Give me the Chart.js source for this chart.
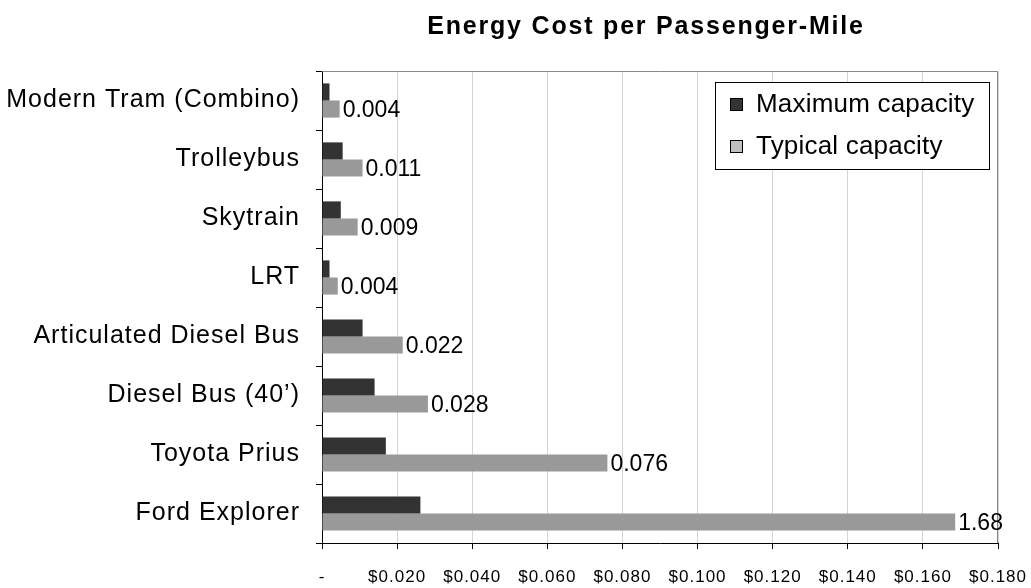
<!DOCTYPE html>
<html>
<head>
<meta charset="utf-8">
<script src="https://cdn.jsdelivr.net/npm/chart.js@4.4.1/dist/chart.umd.min.js"></script>
<style>
  html, body { margin: 0; padding: 0; background: #fff; }
  #wrap { width: 1031px; height: 588px; }
</style>
</head>
<body>
<div id="wrap"><canvas id="c" width="1031" height="588"></canvas></div>
<script>
const categories = ["Modern Tram (Combino)", "Trolleybus", "Skytrain", "LRT", "Articulated Diesel Bus", "Diesel Bus (40\u2019)", "Toyota Prius", "Ford Explorer"];
const maximumCapacity = [0.0020, 0.0055, 0.0050, 0.0020, 0.0108, 0.0140, 0.0170, 0.0262];
const typicalCapacity = [0.0047, 0.0108, 0.0095, 0.0042, 0.0215, 0.0282, 0.0760, 0.1686];
const typicalLabels = ["0.004", "0.011", "0.009", "0.004", "0.022", "0.028", "0.076", "1.68"];
const xTickLabels = ["-", "$0.020", "$0.040", "$0.060", "$0.080", "$0.100", "$0.120", "$0.140", "$0.160", "$0.180"];
const seriesNames = ["Maximum capacity", "Typical capacity"];
const seriesColors = ["#333333", "#999999"];
const legendSwatchColors = ["#333333", "#c0c0c0"];
const chartTitle = "Energy Cost per Passenger-Mile";

const FONT = "'Liberation Sans', Arial, sans-serif";

const frameAndLabels = {
  id: 'frameAndLabels',
  beforeDraw(chart) {
    const ctx = chart.ctx;
    if ('letterSpacing' in ctx) ctx.letterSpacing = '1px';
  },
  afterDatasetsDraw(chart) {
    const ctx = chart.ctx;
    const a = chart.chartArea;
    ctx.save();
    ctx.strokeStyle = '#888888';
    ctx.lineWidth = 1;
    ctx.beginPath();
    ctx.moveTo(a.left, a.top + 0.5);
    ctx.lineTo(a.right - 0.5, a.top + 0.5);
    ctx.lineTo(a.right - 0.5, a.bottom);
    ctx.stroke();
    const meta = chart.getDatasetMeta(1);
    if ('letterSpacing' in ctx) ctx.letterSpacing = '0px';
    ctx.fillStyle = '#000';
    ctx.font = "23px " + FONT;
    ctx.textAlign = 'left';
    ctx.textBaseline = 'middle';
    meta.data.forEach((bar, i) => {
      ctx.fillText(typicalLabels[i], bar.x + 3, bar.y + 2);
    });
    ctx.restore();
  },
  afterDraw(chart) {
    const ctx = chart.ctx;
    ctx.save();
    // title
    if ('letterSpacing' in ctx) ctx.letterSpacing = '1.8px';
    ctx.fillStyle = '#000';
    ctx.font = "bold 25px " + FONT;
    ctx.textAlign = 'center';
    ctx.textBaseline = 'middle';
    ctx.fillText(chartTitle, 646, 27);
    // legend box inside plot
    if ('letterSpacing' in ctx) ctx.letterSpacing = '0.2px';
    const bx = 715, by = 82, bw = 274, bh = 87;
    ctx.fillStyle = '#fff';
    ctx.fillRect(bx, by, bw, bh);
    ctx.strokeStyle = '#000';
    ctx.lineWidth = 1;
    ctx.strokeRect(bx + 0.5, by + 0.5, bw, bh);
    ctx.font = "26px " + FONT;
    ctx.textAlign = 'left';
    ctx.textBaseline = 'middle';
    chart.data.datasets.forEach((ds, i) => {
      const cy = by + 22 + i * 42;
      ctx.fillStyle = legendSwatchColors[i];
      ctx.fillRect(730, cy - 6, 13, 13);
      ctx.strokeStyle = '#000';
      ctx.strokeRect(730.5, cy - 5.5, 12, 12);
      ctx.fillStyle = '#000';
      ctx.fillText(ds.label, 756, cy + 1);
    });
    ctx.restore();
    if ('letterSpacing' in ctx) ctx.letterSpacing = '0px';
  }
};

new Chart(document.getElementById('c'), {
  type: 'bar',
  data: {
    labels: categories,
    datasets: [
      { label: seriesNames[0], data: maximumCapacity, backgroundColor: seriesColors[0], borderWidth: 0 },
      { label: seriesNames[1], data: typicalCapacity, backgroundColor: seriesColors[1], borderWidth: 0 }
    ]
  },
  options: {
    indexAxis: 'y',
    responsive: false,
    animation: false,
    devicePixelRatio: 1,
    categoryPercentage: 0.58,
    barPercentage: 1.0,
    layout: { padding: { left: 0, right: 33, top: 71, bottom: 0 } },
    plugins: {
      legend: { display: false },
      tooltip: { enabled: false },
      title: { display: false }
    },
    scales: {
      x: {
        type: 'linear',
        min: 0,
        max: 0.18,
        afterFit(scale) { scale.height = 45; scale.paddingRight = 0; scale.paddingLeft = 0; },
        afterBuildTicks(scale) {
          scale.ticks = xTickLabels.map((_, i) => ({ value: i * 0.02 }));
        },
        ticks: {
          autoSkip: false,
          maxRotation: 0,
          padding: 18,
          color: '#000',
          font: { family: FONT, size: 17 },
          callback: (v, i) => xTickLabels[i]
        },
        grid: { color: '#d4d4d4', lineWidth: 1, tickLength: 6, tickColor: '#000', drawTicks: true },
        border: { display: true, color: '#000', width: 1 }
      },
      y: {
        afterFit(scale) { scale.width = 322; },
        ticks: {
          color: '#000',
          padding: 16,
          font: { family: FONT, size: 25 }
        },
        grid: { drawOnChartArea: false, drawTicks: true, tickLength: 6, tickColor: '#000', offset: true },
        border: { display: true, color: '#000', width: 1 }
      }
    }
  },
  plugins: [frameAndLabels]
});
</script>
</body>
</html>
